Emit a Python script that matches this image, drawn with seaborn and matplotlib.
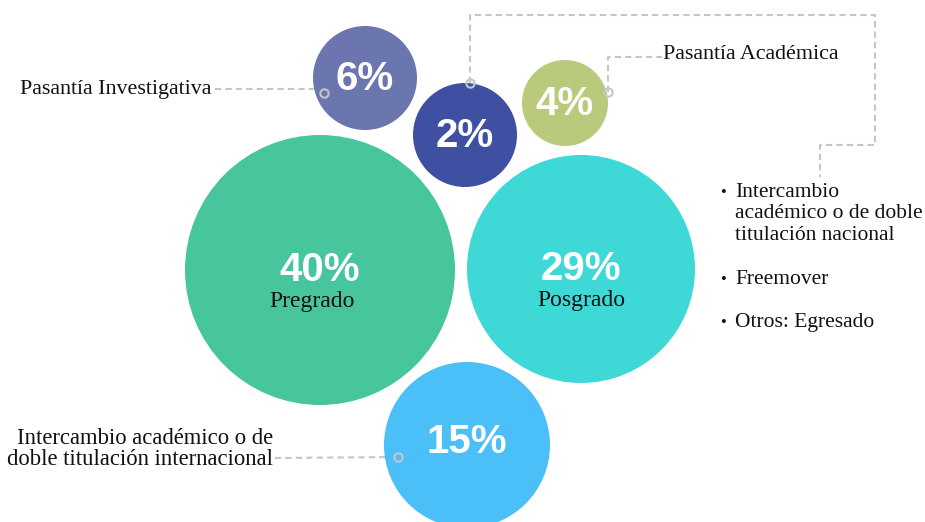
import matplotlib
matplotlib.use("Agg")
import numpy as np
import pandas as pd
import matplotlib.pyplot as plt
import seaborn as sns

#chart data
labels = ["Pasantía Investigativa", "Modalidad nacional", "Pasantía Académica",
          "Pregrado", "Posgrado", "Intercambio internacional"]
shares = [6, 2, 4, 40, 29, 15]
inner_names = ["", "", "", "Pregrado", "Posgrado", ""]
colors = ["#6C76AE", "#3F50A2", "#B9CA7C", "#47C59D", "#3ED8D7", "#4BBFF7"]

left_label_invest = "Pasantía Investigativa"
right_label_acad = "Pasantía Académica"
left_label_inter = "Intercambio académico o de\ndoble titulación internacional"
bullet_items = [["Intercambio", "académico o de doble", "titulación nacional"],
                ["Freemover"],
                ["Otros: Egresado"]]

#layout in pixels (bubble centres / radii)
cx = [365, 465, 565, 320, 581, 467]
cy = [78, 135, 103, 270, 269, 445]
radius = [52, 52, 43, 135, 114, 83]

W, H, DPI = 925, 522, 100

sns.set_theme(style="white")
serif = ["Liberation Serif", "DejaVu Serif"]
sans = ["Liberation Sans", "DejaVu Sans"]

fig = plt.figure(figsize=(W / DPI, H / DPI), dpi=DPI)
ax = fig.add_axes([0, 0, 1, 1])
ax.set_xlim(0, W)
ax.set_ylim(H, 0)
ax.axis("off")

#1 data px = 72/DPI points -> marker area in pt^2
px2pt = 72 / DPI
df = pd.DataFrame({"x": cx, "y": cy, "label": labels, "share": shares})
sizes = [(2 * r * px2pt) ** 2 for r in radius]
sns.scatterplot(data=df, x="x", y="y", hue="label", palette=colors,
                s=sizes, linewidth=0, legend=False, ax=ax, zorder=2)

#percent + inner name
for x, y, v, name in zip(cx, cy, shares, inner_names):
    if name:
        ax.text(x, y + 11, f"{v}%", ha="center", va="baseline", color="white",
                fontsize=29, fontweight="bold", family=sans, zorder=3)
        ax.text(x - 8 if v == 40 else x, y + 37, name, ha="center", va="baseline",
                color="#111111", fontsize=17, family=serif, zorder=3)
    else:
        ax.text(x, y + 12 if v != 15 else y + 8, f"{v}%", ha="center", va="baseline",
                color="white", fontsize=29, fontweight="bold", family=sans, zorder=3)

#connectors
line_kw = dict(color="#C6C6C6", lw=1.5, ls=(0, (3, 2)), zorder=1.5,
               solid_capstyle="butt")
mark_kw = dict(marker="o", ms=6, mfc="none", mec="#C6C6C6", mew=1.5, ls="none", zorder=4)

ax.plot([215, 318, 324], [89, 89, 93], **line_kw)
ax.plot([324], [93], **mark_kw)

ax.plot([470, 470, 875, 875, 820, 820], [83, 15, 15, 145, 145, 177], **line_kw)
ax.plot([470], [83], **mark_kw)

ax.plot([608, 608, 662], [92, 57, 57], **line_kw)
ax.plot([608], [92], **mark_kw)

ax.plot([275, 398], [458, 457], **line_kw)
ax.plot([398], [457], **mark_kw)

#outside labels
ax.text(20, 94, left_label_invest, ha="left", va="baseline", fontsize=15.8,
        family=serif, color="#111111")
ax.text(663, 59, right_label_acad, ha="left", va="baseline", fontsize=15.8,
        family=serif, color="#111111")
ax.text(273, 449, left_label_inter, ha="right", va="center", ma="right",
        fontsize=16.3, family=serif, color="#111111", linespacing=1.0)

y0 = 197
for item in bullet_items:
    ax.text(723, y0, "•", ha="center", va="baseline", fontsize=12,
            family=serif, color="#111111")
    for line in item:
        ax.text(735, y0, line, ha="left", va="baseline", fontsize=15.5,
                family=serif, color="#111111")
        y0 += 21.5
    y0 += 22

fig.savefig("out.png", dpi=DPI)
